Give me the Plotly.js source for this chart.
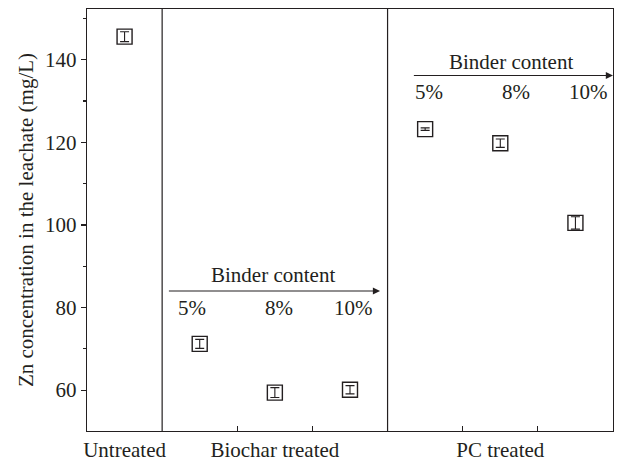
<!DOCTYPE html>
<html>
<head>
<meta charset="utf-8">
<script src="https://cdn.plot.ly/plotly-3.0.1.min.js"></script>
<style>html,body{margin:0;padding:0;background:#fff;}#chart{width:622px;height:468px;}</style>
</head>
<body>
<div id="chart"></div>
<script>
// Data
const groupLabels = ['Untreated', 'Biochar treated', 'PC treated'];
const groupTickPos = [0.5, 2.5, 5.5];
const sampleNames = ['Untreated', 'Biochar 5%', 'Biochar 8%', 'Biochar 10%', 'PC 5%', 'PC 8%', 'PC 10%'];
const sampleX = [0.5, 1.5, 2.5, 3.5, 4.5, 5.5, 6.5];
const znConc = [145.6, 71.2, 59.4, 60.1, 123.2, 119.8, 100.5];
const znErr = [1.2, 1.1, 1.2, 1.0, 0.3, 1.0, 1.5];
const binderLabels = ['5%', '8%', '10%'];

const ink = '#231f20';
const font = {family: '"Liberation Serif", "Times New Roman", serif', size: 21, color: ink};

const trace = {
  type: 'scatter', mode: 'markers',
  x: sampleX, y: znConc, text: sampleNames,
  marker: {symbol: 'square-open', size: 15, color: ink, line: {width: 1.4, color: ink}},
  error_y: {type: 'data', array: znErr, visible: true, width: 4.5, thickness: 1.1, color: ink},
  showlegend: false, cliponaxis: false
};

const annotations = [];
// Biochar binder arrow
annotations.push({x: 3.9, y: 84, ax: 1.07, ay: 84, xref: 'x', yref: 'y', axref: 'x', ayref: 'y',
  showarrow: true, arrowhead: 2, arrowsize: 1.2, arrowwidth: 1.2, arrowcolor: ink, text: ''});
annotations.push({x: 2.48, y: 87.9, xref: 'x', yref: 'y', text: 'Binder content', showarrow: false, font: font});
// PC binder arrow
annotations.push({x: 7.0, y: 136.2, ax: 4.33, ay: 136.2, xref: 'x', yref: 'y', axref: 'x', ayref: 'y',
  showarrow: true, arrowhead: 2, arrowsize: 1.2, arrowwidth: 1.2, arrowcolor: ink, text: ''});
annotations.push({x: 5.64, y: 139.4, xref: 'x', yref: 'y', text: 'Binder content', showarrow: false, font: font});

const bioLabelX = [1.4, 2.55, 3.55];
const pcLabelX = [4.55, 5.71, 6.68];
binderLabels.forEach((t, i) => {
  annotations.push({x: bioLabelX[i], y: 80, xref: 'x', yref: 'y', text: t, showarrow: false, font: font});
  annotations.push({x: pcLabelX[i], y: 132.2, xref: 'x', yref: 'y', text: t, showarrow: false, font: font});
});

const shapes = [1, 4].map(v => ({type: 'line', xref: 'x', yref: 'paper', x0: v, x1: v, y0: 0, y1: 1,
  line: {color: ink, width: 1.2}}));

const layout = {
  width: 622, height: 468,
  margin: {l: 87, r: 9, t: 9, b: 37},
  paper_bgcolor: '#fff', plot_bgcolor: '#fff',
  font: font,
  xaxis: {
    range: [0, 7], showgrid: false, zeroline: false,
    showline: true, mirror: true, linecolor: ink, linewidth: 1.2,
    tickmode: 'array', tickvals: groupTickPos, ticktext: groupLabels, ticks: '',
    tickfont: font,
    minor: {tickmode: 'array', tickvals: [2, 3, 5, 6], ticks: 'inside', ticklen: 5, tickcolor: ink, tickwidth: 1.2, showgrid: false}
  },
  yaxis: {
    range: [50.1, 152.3], showgrid: false, zeroline: false,
    showline: true, mirror: true, linecolor: ink, linewidth: 1.2,
    tickmode: 'linear', tick0: 60, dtick: 20, ticks: 'outside', ticklen: 5, tickcolor: ink, tickwidth: 1.2,
    minor: {dtick: 10, tick0: 50, ticks: 'outside', ticklen: 3, tickcolor: ink, tickwidth: 1.2, showgrid: false},
    tickfont: font,
    title: {text: 'Zn concentration in the leachate (mg/L)', font: font, standoff: 5}
  },
  annotations: annotations,
  shapes: shapes
};

Plotly.newPlot('chart', [trace], layout, {staticPlot: true, displayModeBar: false});
</script>
</body>
</html>
